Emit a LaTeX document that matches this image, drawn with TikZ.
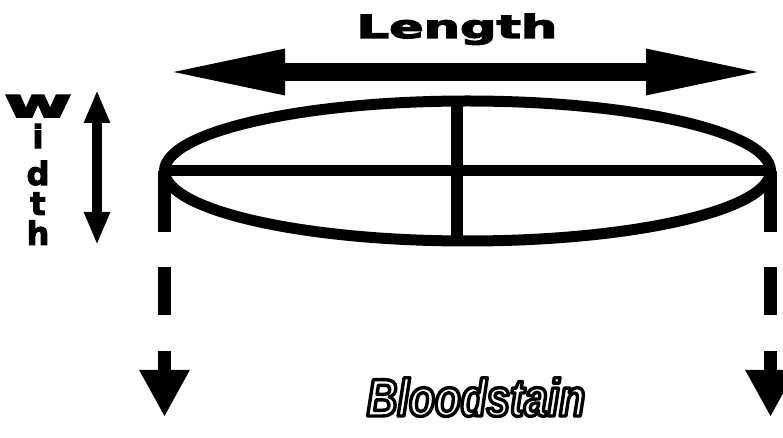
\documentclass[tikz,border=0pt]{standalone}
\usepackage{fontspec}
\usetikzlibrary{arrows.meta,shapes.geometric,calc}
\newfontfamily\heavyfont{DejaVu Sans Bold}[FakeBold=3.5]
\newfontfamily\stainfont{Liberation Sans}[FakeStretch=0.8]
\newcommand\outlinetext[1]{\special{pdf:code q 0 0 0 RG 3.4 w 1 j 1 Tr}#1\special{pdf:code 0 Tr Q}}
\begin{document}
\begin{tikzpicture}[x=1bp,y=-1bp,
  stroke/.style={line width=11bp},
  drop/.style={line width=13bp, dash pattern=on 61bp off 35bp on 48bp off 36bp on 300bp,
    -{Triangle[length=47bp,width=47bp]}},
  heavylabel/.style={font=\heavyfont\fontsize{32}{26}\selectfont, inner sep=0pt}]
\useasboundingbox (0,0) rectangle (783,438);
% stain
\node[draw, ellipse, stroke, minimum width=606bp, minimum height=140bp,
      inner sep=0pt, outer sep=0pt] (stain) at (467.5,171) {};
\draw[stroke] (stain.west) -- (stain.east);
\draw[line width=12bp] ($(stain.north)+(-11,0)$) -- ($(stain.south)+(-11,0)$);
% drops
\coordinate (dropbase) at (0,417);
\draw[drop] (stain.west) -- (stain.west |- dropbase);
\draw[drop] (stain.east) -- (stain.east |- dropbase);
% length arrow
\coordinate (lenL) at (163,72);
\coordinate (lenR) at (768,72);
\draw[line width=18bp, {Triangle[length=122bp,width=41bp]}-{Triangle[length=122bp,width=41bp]}] (lenL) -- (lenR);
\node[heavylabel, anchor=base] (lenlabel) at (457,38) {\scalebox{1.6}[1]{Length}};
% width arrow
\coordinate (widT) at (97,90);
\coordinate (widB) at (97,245);
\draw[line width=10bp, {Triangle[length=33bp,width=24bp]}-{Triangle[length=33bp,width=24bp]}] (widT) -- (widB);
\node[heavylabel, align=center, anchor=north] (widlabel) at (38,95)
  {\scalebox{2.3}[1.26]{w}\\[5bp]i\\[11bp]d\\[4bp]t\\[4bp]h};
% caption
\node[font=\stainfont\bfseries\itshape\fontsize{53}{53}\selectfont, anchor=base, inner sep=0pt]
  (caption) at (476,416) {\outlinetext{Bloodstain}};
\end{tikzpicture}
\end{document}
